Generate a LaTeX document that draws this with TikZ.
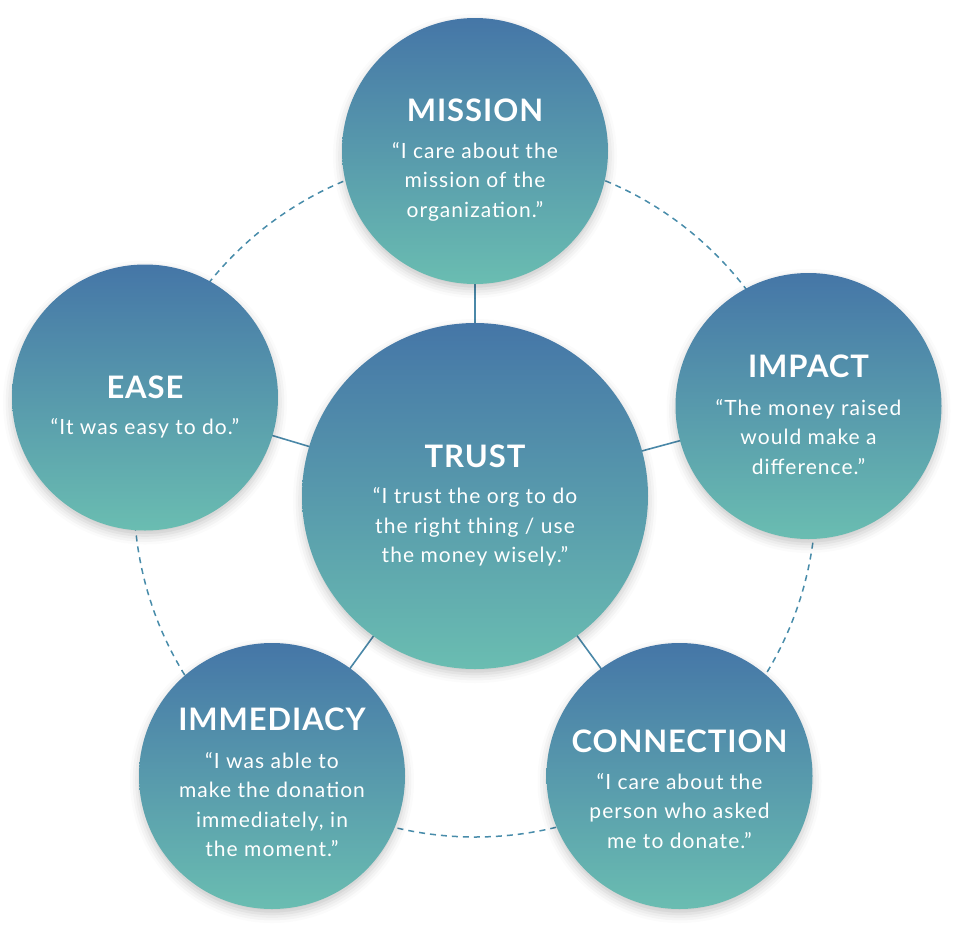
\documentclass[tikz,border=0pt]{standalone}
\usepackage{fontspec}
\setmainfont{Lato}
\newfontfamily\bodyfont[LetterSpace=5]{Lato}
\newfontfamily\titlefont[LetterSpace=3]{Lato}
\usetikzlibrary{shadows.blur}
\definecolor{ctop}{RGB}{69,118,167}
\definecolor{cbot}{RGB}{106,189,177}
\definecolor{dashc}{RGB}{72,140,170}
\definecolor{linec}{RGB}{74,136,168}
\begin{document}
\begin{tikzpicture}[x=1pt,y=-1pt,
  bubble/.style={circle, inner sep=0pt, draw=none, top color=ctop, bottom color=cbot,
    blur shadow={shadow xshift=0pt, shadow yshift=-5pt, shadow blur radius=9pt, shadow opacity=22}},
  small/.style={bubble, minimum size=266pt},
  big/.style={bubble, minimum size=346pt},
  ttl/.style={text=white, font=\titlefont\fontsize{31}{31}\selectfont\bfseries, inner sep=0pt},
  body/.style={text=white, align=center, font=\bodyfont\fontsize{21}{29.5}\selectfont, inner sep=0pt},
  conn/.style={draw=linec, line width=1.6pt},
  ringstyle/.style={circle, draw=dashc, line width=1.5pt, dash pattern=on 6pt off 5pt, minimum size=682pt, inner sep=0pt}
]
\useasboundingbox (0,0) rectangle (962,930);
\node[ringstyle] (ring) at (475,496) {};
\coordinate (cT) at (475,496);
\coordinate (cM) at (475,151);
\coordinate (cE) at (145,397.5);
\coordinate (cI) at (808.5,406);
\coordinate (cY) at (272,776);
\coordinate (cC) at (679.5,776);
\draw[conn] (cT) -- (cM);
\draw[conn] (cT) -- (cE);
\draw[conn] (cT) -- (cI);
\draw[conn] (cT) -- (cY);
\draw[conn] (cT) -- (cC);
\node[small] (mission) at (cM) {};
\node[small] (ease) at (cE) {};
\node[small] (impact) at (cI) {};
\node[small] (immediacy) at (cY) {};
\node[small] (connection) at (cC) {};
\node[big] (trust) at (cT) {};
% texts
\node[ttl] (missionT) at (475,110) {MISSION};
\node[body] (missionB) at (475,181.5) {“I care about the\\mission of the\\organization.”};
\node[ttl] (easeT) at (145,387.5) {EASE};
\node[body] (easeB) at (145,428) {“It was easy to do.”};
\node[ttl] (impactT) at (808.5,366) {IMPACT};
\node[body] (impactB) at (808.5,437) {“The money raised\\would make a\\difference.”};
\node[ttl] (trustT) at (475,456.5) {TRUST};
\node[body] (trustB) at (475,527) {“I trust the org to do\\the right thing / use\\the money wisely.”};
\node[ttl] (immT) at (272,719) {IMMEDIACY};
\node[body] (immB) at (272,804.5) {“I was able to\\make the donation\\immediately, in\\the moment.”};
\node[ttl] (conT) at (679.5,741) {CONNECTION};
\node[body] (conB) at (679.5,811) {“I care about the\\person who asked\\me to donate.”};
\end{tikzpicture}
\end{document}
